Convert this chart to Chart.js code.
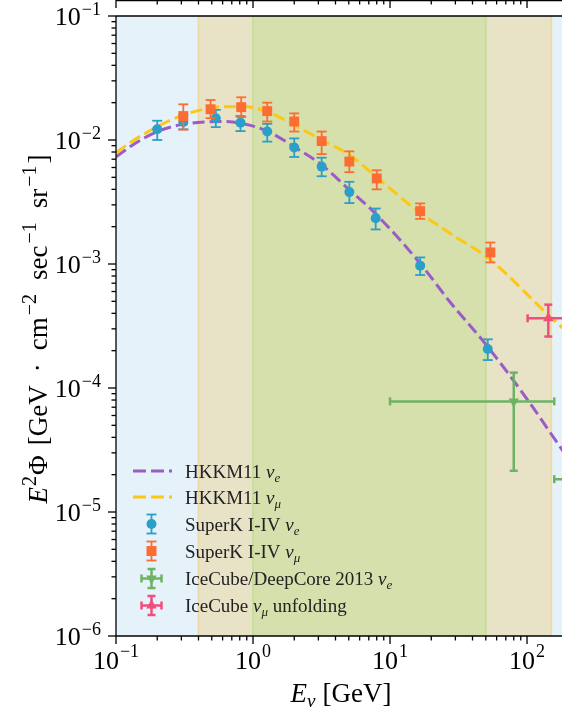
<!DOCTYPE html>
<html>
<head>
<meta charset="utf-8">
<script src="https://cdn.jsdelivr.net/npm/chart.js@4.4.1/dist/chart.umd.min.js"></script>
<style>
  html, body { margin: 0; padding: 0; background: #fff; overflow: hidden; }
  canvas { display: block; }
</style>
</head>
<body>
<canvas id="flux" width="562" height="717"></canvas>
<script>
// HKKM11 model curves (E in GeV, E^2 Phi)
const hkkmNueE = [0.1, 0.13, 0.2, 0.3, 0.45, 0.6, 0.8, 1.27, 2.0, 3.17, 5.0, 7.8, 16.6, 27.4, 50.8, 100, 174, 250];
const hkkmNueFlux = [0.0073, 0.0090, 0.0117, 0.0133, 0.0140, 0.0141, 0.0137, 0.0118, 0.0088, 0.0063, 0.0040, 0.00256, 0.00101, 0.000494, 0.00022, 8.15e-5, 3.36e-5, 1.9e-5];
const hkkmNumuE = [0.1, 0.13, 0.2, 0.31, 0.45, 0.6, 0.85, 1.27, 2.0, 3.17, 5.05, 8.0, 16.6, 27.4, 54, 139, 179, 250];
const hkkmNumuFlux = [0.0079, 0.0097, 0.0128, 0.0159, 0.0178, 0.0185, 0.0186, 0.0169, 0.0132, 0.0100, 0.0076, 0.0050, 0.00258, 0.00177, 0.00108, 0.0004, 0.00031, 0.000225];

// SuperK I-IV nu_e
const skNueE = [0.2, 0.31, 0.535, 0.81, 1.27, 2.0, 3.17, 5.05, 7.86, 16.6, 51.7];
const skNueFlux = [0.0122, 0.0140, 0.0150, 0.0138, 0.0117, 0.0087, 0.0061, 0.0038, 0.00234, 0.00097, 0.000206];
const skNueHi = [0.0143, 0.0160, 0.0175, 0.0156, 0.0135, 0.0103, 0.0072, 0.0046, 0.0028, 0.00113, 0.000247];
const skNueLo = [0.0100, 0.0122, 0.0127, 0.0118, 0.0097, 0.0073, 0.0051, 0.0031, 0.0019, 0.000815, 0.000168];

// SuperK I-IV nu_mu
const skNumuE = [0.31, 0.49, 0.82, 1.27, 2.0, 3.17, 5.05, 8.0, 16.6, 54];
const skNumuFlux = [0.0156, 0.0177, 0.0184, 0.0171, 0.0141, 0.0098, 0.0067, 0.0049, 0.00267, 0.00124];
const skNumuHi = [0.0194, 0.0210, 0.0221, 0.0200, 0.0164, 0.0117, 0.0081, 0.0057, 0.00308, 0.00149];
const skNumuLo = [0.0121, 0.0150, 0.0153, 0.0141, 0.0117, 0.0077, 0.0055, 0.0040, 0.00231, 0.00103];

// IceCube/DeepCore 2013 nu_e
const dcNueE = [80, 250];
const dcNueFlux = [7.8e-5, 1.84e-5];
const dcNueELo = [10, 158];
const dcNueEHi = [158, 400];
const dcNueLo = [2.15e-5, 1.0e-5];
const dcNueHi = [1.33e-4, 3.0e-5];

// IceCube nu_mu unfolding
const icNumuE = [143];
const icNumuFlux = [3.65e-4];
const icNumuELo = [101];
const icNumuEHi = [200];
const icNumuLo = [2.6e-4];
const icNumuHi = [4.7e-4];

// shaded energy ranges
const bandFrom = [0.1, 0.4, 1, 50, 150];
const bandTo = [0.4, 1, 50, 150, 1000];
const bandColors = ['#e5f2fa', '#e8e3c6', '#d5e0ad', '#e8e3c6', '#e5f2fa'];
const bandEdges = [0.4, 1, 50, 150];
const bandEdgeColors = ['#f2d9a6', '#c9dd9b', '#c9dd9b', '#f2d9a6'];

// axes
const xTickExps = [-1, 0, 1, 2];
const yTickExps = [-6, -5, -4, -3, -2, -1];

const PURPLE = '#9a5cc6', YELLOW = '#fdc813', BLUE = '#2a9fca', ORANGE = '#fd6c33', GREEN = '#6db363', PINK = '#ee4f7c';
const SERIF = '"Liberation Serif", "DejaVu Serif", serif';

const pts = (xs, ys) => xs.map((v, i) => ({ x: v, y: ys[i] }));

// error bars keyed by dataset index
const errorBars = {
    2: { color: BLUE, width: 1.8, cap: 5, yLo: skNueLo, yHi: skNueHi },
    3: { color: ORANGE, width: 1.8, cap: 5, yLo: skNumuLo, yHi: skNumuHi },
    4: { color: GREEN, width: 2.5, cap: 4, yLo: dcNueLo, yHi: dcNueHi, xLo: dcNueELo, xHi: dcNueEHi },
    5: { color: PINK, width: 2.5, cap: 4, yLo: icNumuLo, yHi: icNumuHi, xLo: icNumuELo, xHi: icNumuEHi }
};

function clipArea(ctx, a) {
    ctx.beginPath();
    ctx.rect(a.left, a.top, a.right - a.left, a.bottom - a.top);
    ctx.clip();
}

function line(ctx, x0, y0, x1, y1) {
    ctx.beginPath();
    ctx.moveTo(x0, y0);
    ctx.lineTo(x1, y1);
    ctx.stroke();
}

// runs: [text, font, dy, extra advance after]
function drawRuns(ctx, runs, x, y, align) {
    let total = 0;
    runs.forEach(r => { ctx.font = r[1]; total += ctx.measureText(r[0]).width + (r[3] || 0); });
    let cx = align === 'center' ? x - total / 2 : align === 'right' ? x - total : x;
    ctx.textAlign = 'left';
    ctx.textBaseline = 'alphabetic';
    runs.forEach(r => {
        ctx.font = r[1];
        ctx.fillText(r[0], cx, y + (r[2] || 0));
        cx += ctx.measureText(r[0]).width + (r[3] || 0);
    });
}

const bandPlugin = {
    id: 'bands',
    beforeDatasetsDraw(chart) {
        const { ctx, chartArea: a, scales: { x } } = chart;
        ctx.save();
        clipArea(ctx, a);
        for (let i = 0; i < bandFrom.length; i++) {
            const x0 = x.getPixelForValue(bandFrom[i]);
            const x1 = x.getPixelForValue(bandTo[i]);
            ctx.fillStyle = bandColors[i];
            ctx.fillRect(x0, a.top, x1 - x0, a.bottom - a.top);
        }
        ctx.lineWidth = 2;
        bandEdges.forEach((e, i) => {
            const px = x.getPixelForValue(e);
            ctx.strokeStyle = bandEdgeColors[i];
            line(ctx, px, a.top, px, a.bottom);
        });
        ctx.restore();
    }
};

const errorBarPlugin = {
    id: 'errorBars',
    beforeDatasetDraw(chart, args) {
        const err = errorBars[args.index];
        if (!err) return;
        const ds = chart.data.datasets[args.index];
        const { ctx, chartArea: a, scales: { x, y } } = chart;
        ctx.save();
        clipArea(ctx, a);
        ctx.strokeStyle = err.color;
        ctx.lineWidth = err.width;
        ds.data.forEach((p, i) => {
            const px = x.getPixelForValue(p.x), py = y.getPixelForValue(p.y);
            if (err.xLo) {
                const x0 = x.getPixelForValue(err.xLo[i]), x1 = x.getPixelForValue(err.xHi[i]);
                line(ctx, x0, py, x1, py);
                line(ctx, x0, py - err.cap, x0, py + err.cap);
                line(ctx, x1, py - err.cap, x1, py + err.cap);
            }
            const y0 = y.getPixelForValue(err.yLo[i]), y1 = y.getPixelForValue(err.yHi[i]);
            line(ctx, px, y0, px, y1);
            line(ctx, px - err.cap, y0, px + err.cap, y0);
            line(ctx, px - err.cap, y1, px + err.cap, y1);
        });
        ctx.restore();
    }
};

const axesPlugin = {
    id: 'axesDecor',
    afterDraw(chart) {
        const { ctx, chartArea: a, scales: { x, y } } = chart;
        ctx.save();
        ctx.strokeStyle = '#000';
        ctx.fillStyle = '#000';
        ctx.lineWidth = 1.3;

        // spines
        line(ctx, a.left, a.top, a.right, a.top);
        line(ctx, a.left, a.top, a.left, a.bottom);
        line(ctx, a.left, a.bottom, a.right, a.bottom);
        // strip of the panel above
        line(ctx, a.left, 0.7, a.right, 0.7);

        // ticks
        xTickExps.forEach(e => {
            for (let m = 1; m <= 9; m++) {
                const v = m * Math.pow(10, e);
                if (v < x.min || v > x.max) continue;
                const px = x.getPixelForValue(v);
                const len = m === 1 ? 8 : 4.5;
                line(ctx, px, a.bottom, px, a.bottom + len);
                line(ctx, px, 0, px, len);
            }
        });
        yTickExps.forEach(e => {
            for (let m = 1; m <= 9; m++) {
                const v = m * Math.pow(10, e);
                if (v < y.min - 1e-12 || v > y.max * 1.0001) continue;
                const py = y.getPixelForValue(v);
                const len = m === 1 ? 8 : 4.5;
                line(ctx, a.left - len, py, a.left, py);
            }
        });

        // tick labels
        const tickFont = '26px ' + SERIF, expFont = '18px ' + SERIF;
        const expText = e => (e < 0 ? '\u2212' : '') + Math.abs(e);
        xTickExps.forEach(e => {
            const px = x.getPixelForValue(Math.pow(10, e));
            drawRuns(ctx, [['10', tickFont, 0, 1], [expText(e), expFont, -12]], px, 669, 'center');
        });
        yTickExps.forEach(e => {
            const py = y.getPixelForValue(Math.pow(10, e));
            drawRuns(ctx, [['10', tickFont, 0, 1], [expText(e), expFont, -10]], 101, py + 9, 'right');
        });

        // axis titles
        const tFont = '27px ' + SERIF, tItal = 'italic 27px ' + SERIF, tSup = '20px ' + SERIF, tSub = 'italic 19px ' + SERIF;
        drawRuns(ctx, [['E', tItal, 0], ['\u03bd', tSub, 5, 7], ['[GeV]', tFont, 0]], (a.left + a.right) / 2 + 2, 702, 'center');

        ctx.save();
        ctx.translate(47, (a.top + a.bottom) / 2 + 3);
        ctx.rotate(-Math.PI / 2);
        drawRuns(ctx, [
            ['E', tItal, 0, 1], ['2', tSup, -11, 1], ['\u03a6', tFont, 0, 10], ['[GeV', tFont, 0, 13], ['\u00b7', tFont, 0, 13],
            ['cm', tFont, 0, 2], ['\u22122', tSup, -11, 14], ['sec', tFont, 0, 2], ['\u22121', tSup, -11, 14],
            ['sr', tFont, 0, 2], ['\u22121', tSup, -11, 2], [']', tFont, 0]
        ], 0, 0, 'center');
        ctx.restore();

        // legend
        const lFont = '19px ' + SERIF, lItal = 'italic 19px ' + SERIF, lSub = 'italic 13px ' + SERIF;
        const legendRows = [471, 497, 524, 551, 578.5, 605.5];
        const legendItems = [
            { text: 'HKKM11 ', sub: 'e', kind: 'line', color: PURPLE },
            { text: 'HKKM11 ', sub: '\u03bc', kind: 'line', color: YELLOW },
            { text: 'SuperK I-IV ', sub: 'e', kind: 'circle', color: BLUE },
            { text: 'SuperK I-IV ', sub: '\u03bc', kind: 'rect', color: ORANGE },
            { text: 'IceCube/DeepCore 2013 ', sub: 'e', kind: 'tridown', color: GREEN },
            { text: 'IceCube ', sub: '\u03bc', kind: 'triup', color: PINK, tail: ' unfolding' }
        ];
        const mx = 151.5;
        legendItems.forEach((it, i) => {
            const ly = legendRows[i];
            ctx.strokeStyle = it.color;
            ctx.fillStyle = it.color;
            if (it.kind === 'line') {
                ctx.lineWidth = 3;
                ctx.setLineDash([13, 5]);
                line(ctx, 133, ly, 172, ly);
                ctx.setLineDash([]);
            } else {
                const cross = it.kind === 'tridown' || it.kind === 'triup';
                ctx.lineWidth = cross ? 2.5 : 1.8;
                const cap = cross ? 4 : 5;
                line(ctx, mx, ly - 9.5, mx, ly + 9.5);
                line(ctx, mx - cap, ly - 9.5, mx + cap, ly - 9.5);
                line(ctx, mx - cap, ly + 9.5, mx + cap, ly + 9.5);
                if (cross) {
                    line(ctx, mx - 10, ly, mx + 10, ly);
                    line(ctx, mx - 10, ly - cap, mx - 10, ly + cap);
                    line(ctx, mx + 10, ly - cap, mx + 10, ly + cap);
                }
                ctx.beginPath();
                if (it.kind === 'circle') ctx.arc(mx, ly, 5, 0, Math.PI * 2);
                else if (it.kind === 'rect') ctx.rect(mx - 5, ly - 5, 10, 10);
                else if (it.kind === 'triup') { ctx.moveTo(mx, ly - 6); ctx.lineTo(mx + 5.2, ly + 3); ctx.lineTo(mx - 5.2, ly + 3); ctx.closePath(); }
                else { ctx.moveTo(mx, ly + 6); ctx.lineTo(mx + 5.2, ly - 3); ctx.lineTo(mx - 5.2, ly - 3); ctx.closePath(); }
                ctx.fill();
            }
            ctx.fillStyle = '#222';
            const runs = [[it.text, lFont, 0], ['\u03bd', lItal, 0], [it.sub, lSub, 4]];
            if (it.tail) runs.push([it.tail, lFont, 0]);
            drawRuns(ctx, runs, 185, ly + 6.5, 'left');
        });

        ctx.restore();
    }
};

const lineStyle = (color) => ({
    type: 'line', borderColor: color, borderWidth: 3, borderDash: [12, 5], pointRadius: 0,
    fill: false, cubicInterpolationMode: 'monotone', order: 10
});
const markerStyle = (color, style, r, rot, order) => ({
    type: 'scatter', showLine: false, backgroundColor: color, borderColor: color, borderWidth: 0,
    pointStyle: style, pointRadius: r, pointRotation: rot, order: order
});

new Chart(document.getElementById('flux'), {
    data: {
        datasets: [
            Object.assign({ label: 'HKKM11 nu_e', data: pts(hkkmNueE, hkkmNueFlux) }, lineStyle(PURPLE)),
            Object.assign({ label: 'HKKM11 nu_mu', data: pts(hkkmNumuE, hkkmNumuFlux) }, lineStyle(YELLOW)),
            Object.assign({ label: 'SuperK I-IV nu_e', data: pts(skNueE, skNueFlux) }, markerStyle(BLUE, 'circle', 5, 0, 4)),
            Object.assign({ label: 'SuperK I-IV nu_mu', data: pts(skNumuE, skNumuFlux) }, markerStyle(ORANGE, 'rect', 7, 0, 3)),
            Object.assign({ label: 'IceCube/DeepCore 2013 nu_e', data: pts(dcNueE, dcNueFlux) }, markerStyle(GREEN, 'triangle', 6, 180, 2)),
            Object.assign({ label: 'IceCube nu_mu unfolding', data: pts(icNumuE, icNumuFlux) }, markerStyle(PINK, 'triangle', 6, 0, 1))
        ]
    },
    options: {
        responsive: false,
        animation: false,
        devicePixelRatio: 1,
        layout: { autoPadding: false, padding: { left: 116, top: 16, right: 0, bottom: 81 } },
        scales: {
            x: { type: 'logarithmic', min: 0.1, max: 180, display: false },
            y: { type: 'logarithmic', min: 1e-6, max: 0.1, display: false }
        },
        plugins: { legend: { display: false }, tooltip: { enabled: false } }
    },
    plugins: [bandPlugin, errorBarPlugin, axesPlugin]
});
</script>
</body>
</html>
